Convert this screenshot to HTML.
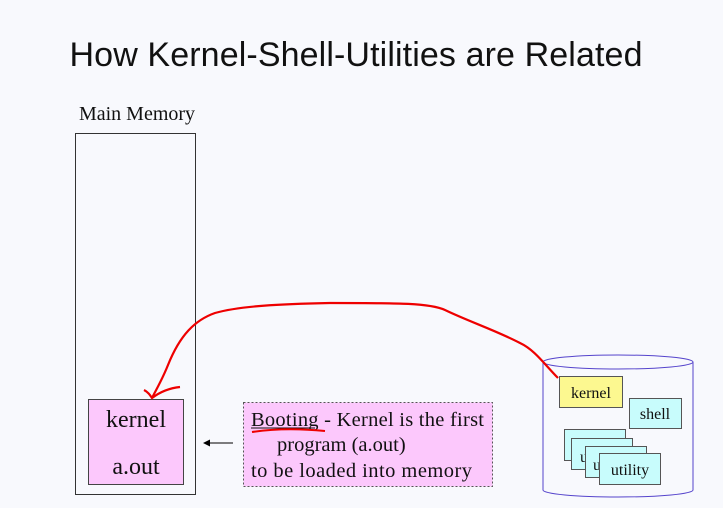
<!DOCTYPE html>
<html><head><style>
body{margin:0;background:#f8f9fd;}
svg{display:block}
</style></head><body>
<svg width="723" height="508" xmlns="http://www.w3.org/2000/svg">
<rect width="723" height="508" fill="#f8f9fd"/>
<text x="356" y="66" text-anchor="middle" font-family="Liberation Sans, sans-serif" font-size="34" textLength="573" fill="#111">How Kernel-Shell-Utilities are Related</text>
<text x="137" y="120" text-anchor="middle" font-family="Liberation Serif, serif" font-size="20" fill="#111">Main Memory</text>
<rect x="75.5" y="133.5" width="120" height="361" fill="none" stroke="#333" stroke-width="1"/>
<rect x="88.5" y="399.5" width="95" height="85" fill="#fcc8fc" stroke="#444" stroke-width="1"/>
<text x="136" y="427" text-anchor="middle" font-family="Liberation Serif, serif" font-size="24" fill="#111">kernel</text>
<text x="136" y="474" text-anchor="middle" font-family="Liberation Serif, serif" font-size="24" fill="#111">a.out</text>
<line x1="233" y1="443" x2="204" y2="443" stroke="#000" stroke-width="1"/>
<path d="M203 443 l7 -3.5 v7z" fill="#000"/>
<rect x="243.5" y="402.5" width="249" height="84" fill="#fcc8fc" stroke="#555" stroke-width="1" stroke-dasharray="2,2"/>
<g font-family="Liberation Serif, serif" font-size="20.5" fill="#111">
<text x="251" y="426" textLength="233">Booting - Kernel is the first</text>
<text x="277" y="451">program (a.out)</text>
<text x="251" y="477" textLength="221">to be loaded  into memory</text>
</g>
<line x1="251" y1="428" x2="315" y2="428" stroke="#111"/>
<path d="M252 432 Q285 427 325 431" stroke="#e00" stroke-width="2" fill="none"/>
<path d="M543 362 V490 A75 7 0 0 0 693 490 V362" fill="#f8f9fd" stroke="#5544cc" stroke-width="1"/>
<ellipse cx="618" cy="362" rx="75" ry="7" fill="#f8f9fd" stroke="#5544cc" stroke-width="1"/>
<g font-family="Liberation Serif, serif" font-size="16" fill="#111">
<rect x="559.5" y="376.5" width="63" height="31" fill="#fcf890" stroke="#555"/>
<text x="591" y="398" text-anchor="middle">kernel</text>
<rect x="629.5" y="398.5" width="52" height="30" fill="#c8fcfc" stroke="#555"/>
<text x="655" y="419" text-anchor="middle">shell</text>
<rect x="564.5" y="429.5" width="61" height="31" fill="#c8fcfc" stroke="#555"/>
<rect x="571.5" y="438.5" width="61" height="31" fill="#c8fcfc" stroke="#555"/>
<text x="580" y="462">u</text>
<rect x="585.5" y="446.5" width="61" height="31" fill="#c8fcfc" stroke="#555"/>
<text x="593" y="470">u</text>
<rect x="599.5" y="453.5" width="61" height="31" fill="#c8fcfc" stroke="#555"/>
<text x="630" y="475" text-anchor="middle">utility</text>
</g>
<path d="M558 378 C545 365 535 350 520 343 C495 330 470 322 445 310 C430 303 400 303 330 303 C280 304 240 306 215 313 C195 320 180 335 168 365 C162 380 156 390 152 398" stroke="#e00" stroke-width="2.2" fill="none"/>
<path d="M144 390 C148 392 150 395 152 398 C160 392 170 388 180 387" stroke="#e00" stroke-width="2.2" fill="none"/>
</svg>
</body></html>
